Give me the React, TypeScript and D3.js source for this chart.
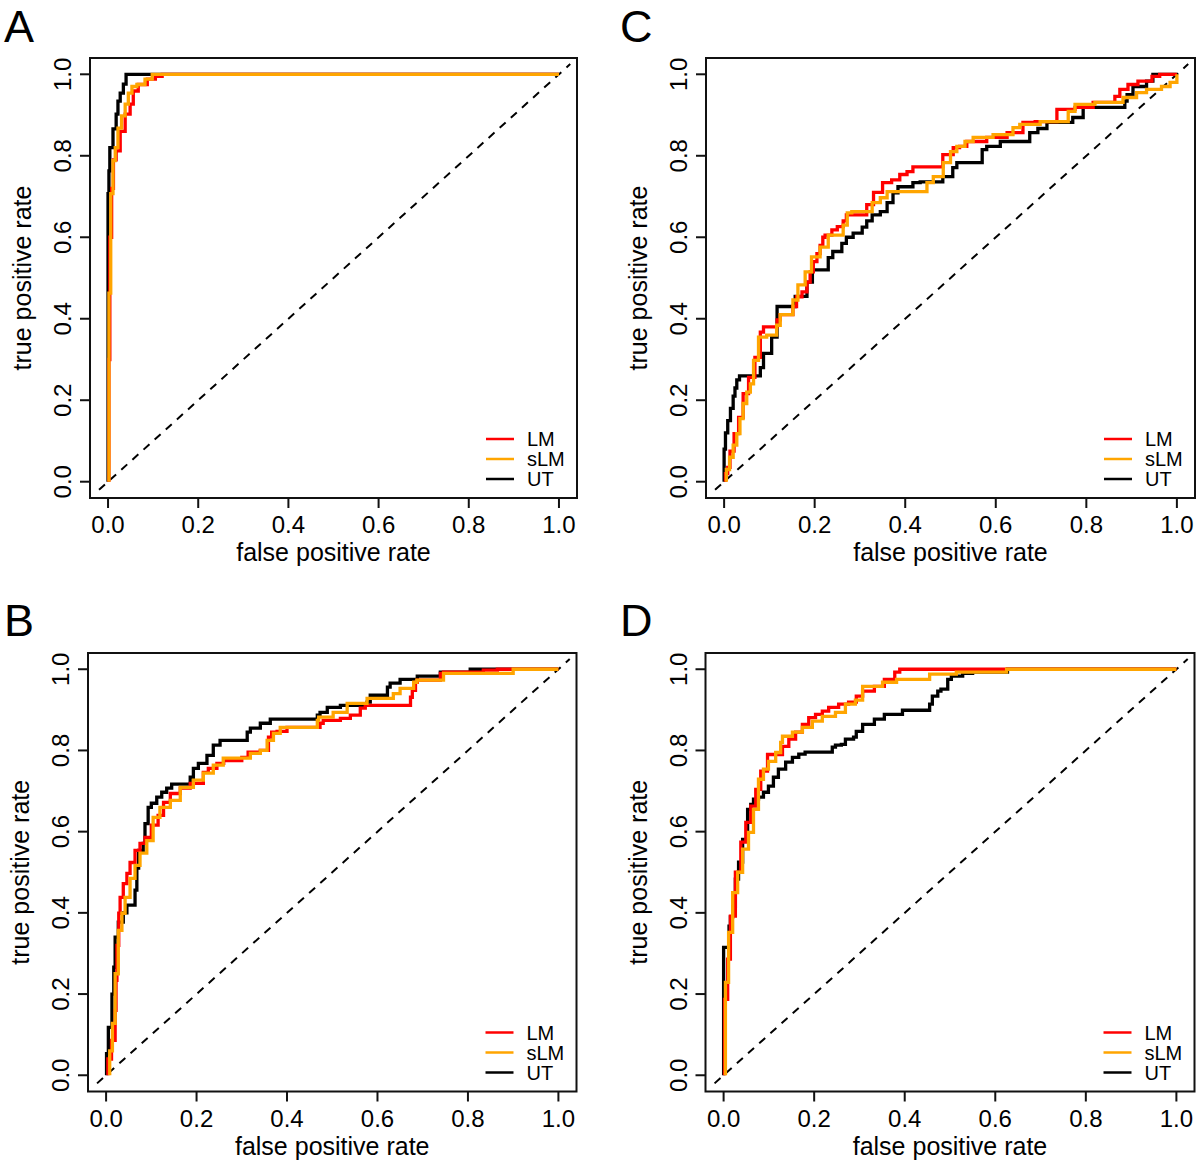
import React from 'react';
import * as d3 from 'd3';

type Pt = [number, number];

const TICKS: number[] = [0, 0.2, 0.4, 0.6, 0.8, 1.0];
const TICK_LABELS: string[] = ['0.0', '0.2', '0.4', '0.6', '0.8', '1.0'];
const SERIES_NAMES: string[] = ['LM', 'sLM', 'UT'];
const DRAW_ORDER: string[] = ['UT', 'LM', 'sLM'];
const SERIES_COLORS: Record<string, string> = { LM: '#ff0000', sLM: '#ffa500', UT: '#000000' };
const X_TITLE = 'false positive rate';
const Y_TITLE = 'true positive rate';
const PANEL_LETTERS: string[] = ['A', 'C', 'B', 'D'];

// Panel A
const A_UT: Pt[] = [[0, 0], [0, 0.4], [0.002, 0.707], [0.004, 0.763], [0.011, 0.82], [0.018, 0.866], [0.022, 0.902], [0.027, 0.934], [0.034, 0.954], [0.04, 0.976], [0.047, 1.0], [1, 1]];
const A_LM: Pt[] = [[0.002, 0], [0.004, 0.3], [0.008, 0.6], [0.012, 0.72], [0.018, 0.79], [0.027, 0.812], [0.038, 0.86], [0.049, 0.902], [0.056, 0.927], [0.067, 0.959], [0.087, 0.975], [0.105, 0.988], [0.12, 0.995], [0.127, 1.0], [1, 1]];
const A_sLM: Pt[] = [[0.002, 0], [0.002, 0.137], [0.006, 0.463], [0.011, 0.707], [0.016, 0.788], [0.022, 0.82], [0.03, 0.868], [0.038, 0.898], [0.045, 0.927], [0.053, 0.954], [0.064, 0.97], [0.082, 0.975], [0.098, 0.988], [0.108, 1.0], [1, 1]];

// Panel C
const C_UT: Pt[] = [[0, 0], [0.003, 0.08], [0.008, 0.12], [0.014, 0.15], [0.02, 0.18], [0.024, 0.21], [0.028, 0.23], [0.034, 0.25], [0.04, 0.26], [0.08, 0.26], [0.087, 0.28], [0.105, 0.315], [0.117, 0.355], [0.128, 0.43], [0.157, 0.43], [0.157, 0.45], [0.183, 0.455], [0.195, 0.49], [0.205, 0.52], [0.23, 0.52], [0.24, 0.55], [0.26, 0.565], [0.27, 0.585], [0.285, 0.6], [0.305, 0.61], [0.315, 0.625], [0.327, 0.64], [0.345, 0.655], [0.36, 0.663], [0.373, 0.685], [0.384, 0.709], [0.417, 0.724], [0.433, 0.734], [0.483, 0.736], [0.505, 0.749], [0.514, 0.771], [0.528, 0.783], [0.57, 0.783], [0.58, 0.815], [0.61, 0.823], [0.625, 0.835], [0.675, 0.835], [0.693, 0.857], [0.713, 0.867], [0.77, 0.882], [0.793, 0.894], [0.823, 0.919], [0.885, 0.919], [0.89, 0.934], [0.903, 0.95], [0.933, 0.97], [0.947, 0.983], [0.958, 1.0], [1, 1]];
const C_LM: Pt[] = [[0.003, 0], [0.008, 0.02], [0.013, 0.035], [0.022, 0.075], [0.032, 0.118], [0.042, 0.158], [0.054, 0.216], [0.068, 0.256], [0.08, 0.305], [0.087, 0.367], [0.098, 0.38], [0.117, 0.38], [0.124, 0.397], [0.138, 0.41], [0.152, 0.41], [0.16, 0.43], [0.172, 0.454], [0.183, 0.466], [0.19, 0.49], [0.197, 0.515], [0.205, 0.54], [0.212, 0.56], [0.218, 0.58], [0.223, 0.6], [0.238, 0.605], [0.25, 0.618], [0.263, 0.626], [0.27, 0.64], [0.278, 0.655], [0.315, 0.655], [0.322, 0.68], [0.33, 0.68], [0.35, 0.71], [0.37, 0.734], [0.388, 0.741], [0.404, 0.754], [0.417, 0.761], [0.432, 0.773], [0.483, 0.773], [0.506, 0.803], [0.52, 0.82], [0.536, 0.823], [0.58, 0.835], [0.625, 0.845], [0.66, 0.857], [0.687, 0.882], [0.735, 0.884], [0.775, 0.914], [0.815, 0.919], [0.863, 0.931], [0.874, 0.946], [0.892, 0.963], [0.914, 0.975], [0.945, 0.983], [0.962, 0.995], [0.978, 1.0], [1, 1]];
const C_sLM: Pt[] = [[0.005, 0], [0.012, 0.03], [0.02, 0.06], [0.028, 0.09], [0.035, 0.118], [0.042, 0.155], [0.05, 0.192], [0.058, 0.22], [0.065, 0.24], [0.076, 0.298], [0.083, 0.355], [0.094, 0.355], [0.116, 0.36], [0.124, 0.384], [0.138, 0.41], [0.152, 0.41], [0.163, 0.446], [0.179, 0.483], [0.193, 0.515], [0.212, 0.552], [0.23, 0.576], [0.241, 0.605], [0.263, 0.605], [0.272, 0.63], [0.282, 0.66], [0.327, 0.663], [0.345, 0.685], [0.36, 0.697], [0.388, 0.712], [0.448, 0.712], [0.462, 0.734], [0.484, 0.749], [0.5, 0.783], [0.514, 0.81], [0.532, 0.823], [0.55, 0.835], [0.594, 0.845], [0.638, 0.852], [0.653, 0.869], [0.698, 0.877], [0.76, 0.884], [0.775, 0.909], [0.79, 0.926], [0.819, 0.926], [0.881, 0.931], [0.911, 0.943], [0.933, 0.955], [0.966, 0.963], [0.985, 0.97], [1.0, 0.98], [1, 1]];

// Panel B
const B_UT: Pt[] = [[0.001, 0], [0.005, 0.053], [0.013, 0.118], [0.017, 0.2], [0.02, 0.266], [0.027, 0.34], [0.038, 0.377], [0.046, 0.4], [0.053, 0.419], [0.064, 0.419], [0.068, 0.456], [0.072, 0.51], [0.082, 0.554], [0.086, 0.571], [0.093, 0.62], [0.1, 0.66], [0.112, 0.67], [0.123, 0.685], [0.134, 0.697], [0.145, 0.707], [0.159, 0.717], [0.186, 0.717], [0.193, 0.734], [0.204, 0.756], [0.223, 0.768], [0.237, 0.788], [0.252, 0.813], [0.267, 0.825], [0.312, 0.825], [0.319, 0.845], [0.341, 0.855], [0.363, 0.867], [0.385, 0.877], [0.467, 0.877], [0.473, 0.887], [0.489, 0.894], [0.518, 0.906], [0.577, 0.911], [0.584, 0.919], [0.622, 0.936], [0.628, 0.956], [0.65, 0.966], [0.688, 0.975], [0.739, 0.983], [0.805, 0.993], [0.834, 1.0], [1, 1]];
const B_LM: Pt[] = [[0.004, 0], [0.012, 0.04], [0.02, 0.086], [0.022, 0.16], [0.024, 0.234], [0.028, 0.32], [0.031, 0.399], [0.038, 0.438], [0.046, 0.472], [0.053, 0.497], [0.064, 0.524], [0.075, 0.554], [0.086, 0.571], [0.1, 0.586], [0.115, 0.616], [0.127, 0.64], [0.142, 0.672], [0.164, 0.694], [0.186, 0.707], [0.201, 0.719], [0.215, 0.719], [0.226, 0.746], [0.245, 0.756], [0.26, 0.768], [0.3, 0.775], [0.314, 0.783], [0.341, 0.796], [0.359, 0.8], [0.366, 0.833], [0.378, 0.845], [0.4, 0.847], [0.422, 0.857], [0.473, 0.857], [0.48, 0.867], [0.518, 0.874], [0.54, 0.879], [0.562, 0.887], [0.573, 0.904], [0.584, 0.911], [0.673, 0.911], [0.677, 0.931], [0.684, 0.948], [0.688, 0.968], [0.739, 0.973], [0.746, 0.99], [0.834, 0.993], [0.865, 0.998], [0.894, 1.0], [1, 1]];
const B_sLM: Pt[] = [[0.008, 0], [0.014, 0.06], [0.02, 0.128], [0.027, 0.25], [0.035, 0.357], [0.042, 0.399], [0.053, 0.438], [0.064, 0.485], [0.075, 0.517], [0.09, 0.547], [0.104, 0.578], [0.104, 0.596], [0.119, 0.635], [0.142, 0.66], [0.164, 0.677], [0.193, 0.709], [0.215, 0.727], [0.237, 0.744], [0.259, 0.764], [0.281, 0.781], [0.319, 0.781], [0.341, 0.793], [0.356, 0.8], [0.37, 0.825], [0.385, 0.842], [0.422, 0.857], [0.467, 0.857], [0.47, 0.874], [0.502, 0.882], [0.533, 0.894], [0.577, 0.916], [0.588, 0.928], [0.635, 0.928], [0.65, 0.94], [0.68, 0.953], [0.687, 0.968], [0.746, 0.973], [0.753, 0.99], [0.9, 0.99], [0.9, 1.0], [1, 1]];

// Panel D
const D_UT: Pt[] = [[0, 0], [0, 0.315], [0.012, 0.315], [0.015, 0.367], [0.02, 0.39], [0.026, 0.416], [0.033, 0.483], [0.042, 0.525], [0.053, 0.581], [0.06, 0.655], [0.066, 0.667], [0.077, 0.68], [0.088, 0.685], [0.099, 0.697], [0.11, 0.712], [0.121, 0.734], [0.137, 0.754], [0.152, 0.771], [0.166, 0.783], [0.18, 0.791], [0.196, 0.796], [0.24, 0.796], [0.247, 0.808], [0.26, 0.813], [0.269, 0.815], [0.287, 0.828], [0.293, 0.833], [0.307, 0.847], [0.333, 0.864], [0.355, 0.877], [0.395, 0.889], [0.414, 0.899], [0.455, 0.899], [0.461, 0.914], [0.473, 0.934], [0.48, 0.946], [0.495, 0.951], [0.503, 0.975], [0.514, 0.983], [0.528, 0.983], [0.55, 0.99], [0.627, 0.993], [0.63, 1.0], [1, 1]];
const D_LM: Pt[] = [[0.002, 0], [0.009, 0.187], [0.015, 0.286], [0.026, 0.392], [0.038, 0.5], [0.049, 0.574], [0.06, 0.623], [0.071, 0.663], [0.082, 0.704], [0.097, 0.749], [0.11, 0.79], [0.13, 0.79], [0.144, 0.81], [0.159, 0.828], [0.174, 0.845], [0.188, 0.864], [0.203, 0.881], [0.218, 0.889], [0.232, 0.897], [0.254, 0.906], [0.276, 0.914], [0.293, 0.919], [0.307, 0.934], [0.333, 0.946], [0.355, 0.958], [0.378, 0.975], [0.389, 0.993], [0.406, 1.0], [1, 1]];
const D_sLM: Pt[] = [[0.004, 0], [0.011, 0.229], [0.02, 0.352], [0.031, 0.45], [0.042, 0.5], [0.055, 0.557], [0.066, 0.598], [0.077, 0.655], [0.088, 0.729], [0.099, 0.754], [0.115, 0.773], [0.126, 0.795], [0.13, 0.82], [0.152, 0.835], [0.174, 0.845], [0.196, 0.857], [0.218, 0.872], [0.247, 0.884], [0.269, 0.894], [0.291, 0.914], [0.307, 0.924], [0.307, 0.938], [0.351, 0.958], [0.382, 0.968], [0.455, 0.975], [0.514, 0.988], [0.625, 0.993], [0.627, 1.0], [1, 1]];

const PANEL_DATA: Record<string, Record<string, Pt[]>> = {
  A: { LM: A_LM, sLM: A_sLM, UT: A_UT },
  B: { LM: B_LM, sLM: B_sLM, UT: B_UT },
  C: { LM: C_LM, sLM: C_sLM, UT: C_UT },
  D: { LM: D_LM, sLM: D_sLM, UT: D_UT },
};

// layout (pixel boxes of each plot region)
const BOXES: Record<string, { left: number; right: number; top: number; bottom: number; lx: number; ly: number }> = {
  A: { left: 90, right: 577, top: 58, bottom: 498, lx: 4, ly: 42 },
  C: { left: 706, right: 1195, top: 58, bottom: 498, lx: 620, ly: 42 },
  B: { left: 88, right: 576.5, top: 653, bottom: 1091.5, lx: 4, ly: 636 },
  D: { left: 705.5, right: 1194.5, top: 653, bottom: 1091.5, lx: 620, ly: 636 },
};

const FONT = '"Liberation Sans", Arial, Helvetica, sans-serif';

function Panel({ letter }: { letter: string }) {
  const b = BOXES[letter];
  const data = PANEL_DATA[letter];
  const x = d3.scaleLinear().domain([-0.04, 1.04]).range([b.left, b.right]);
  const y = d3.scaleLinear().domain([-0.04, 1.04]).range([b.bottom, b.top]);
  const line = d3
    .line<Pt>()
    .x((d) => x(d[0]))
    .y((d) => y(d[1]))
    .curve(d3.curveStepBefore);
  const xMid = (x(0) + x(1)) / 2;
  const yMid = (y(0) + y(1)) / 2;
  const legendRows = [-59, -39, -19];
  return (
    <g>
      <text x={b.lx} y={b.ly} fontSize={45} fontFamily={FONT} fill="#000">
        {letter}
      </text>
      {/* diagonal */}
      <line
        x1={x(-0.02)}
        y1={y(-0.02)}
        x2={x(1.025)}
        y2={y(1.025)}
        stroke="#000"
        strokeWidth={2}
        strokeDasharray="8,7"
      />
      {DRAW_ORDER.map((s) => (
        <path
          key={s}
          d={line(data[s]) || ''}
          fill="none"
          stroke={SERIES_COLORS[s]}
          strokeWidth={3.3}
          strokeLinejoin="miter"
        />
      ))}
      {/* box */}
      <rect
        x={b.left}
        y={b.top}
        width={b.right - b.left}
        height={b.bottom - b.top}
        fill="none"
        stroke="#111"
        strokeWidth={2}
      />
      {/* x axis ticks */}
      {TICKS.map((t, i) => (
        <g key={'x' + i}>
          <line x1={x(t)} x2={x(t)} y1={b.bottom} y2={b.bottom + 10} stroke="#111" strokeWidth={2} />
          <text x={x(t)} y={b.bottom + 35} textAnchor="middle" fontSize={24} fontFamily={FONT} fill="#000">
            {TICK_LABELS[i]}
          </text>
        </g>
      ))}
      {/* y axis ticks */}
      {TICKS.map((t, i) => (
        <g key={'y' + i}>
          <line x1={b.left - 10} x2={b.left} y1={y(t)} y2={y(t)} stroke="#111" strokeWidth={2} />
          <text
            transform={`translate(${b.left - 19},${y(t)}) rotate(-90)`}
            textAnchor="middle"
            fontSize={24}
            fontFamily={FONT}
            fill="#000"
          >
            {TICK_LABELS[i]}
          </text>
        </g>
      ))}
      <text x={xMid} y={b.bottom + 63} textAnchor="middle" fontSize={25} fontFamily={FONT} fill="#000">
        {X_TITLE}
      </text>
      <text
        transform={`translate(${b.left - 59},${yMid}) rotate(-90)`}
        textAnchor="middle"
        fontSize={25}
        fontFamily={FONT}
        fill="#000"
      >
        {Y_TITLE}
      </text>
      {/* legend */}
      {SERIES_NAMES.map((s, i) => (
        <g key={'lg' + s}>
          <line
            x1={b.right - 91}
            x2={b.right - 63}
            y1={b.bottom + legendRows[i]}
            y2={b.bottom + legendRows[i]}
            stroke={SERIES_COLORS[s]}
            strokeWidth={2.5}
          />
          <text x={b.right - 50} y={b.bottom + legendRows[i] + 7} fontSize={20} fontFamily={FONT} fill="#000">
            {s}
          </text>
        </g>
      ))}
    </g>
  );
}

export default function App() {
  return (
    <svg
      width={1200}
      height={1166}
      viewBox="0 0 1200 1166"
      style={{ position: 'absolute', left: 0, top: 0, background: '#fff' }}
    >
      <rect x={0} y={0} width={1200} height={1166} fill="#fff" />
      {PANEL_LETTERS.map((l) => (
        <Panel key={l} letter={l} />
      ))}
    </svg>
  );
}
